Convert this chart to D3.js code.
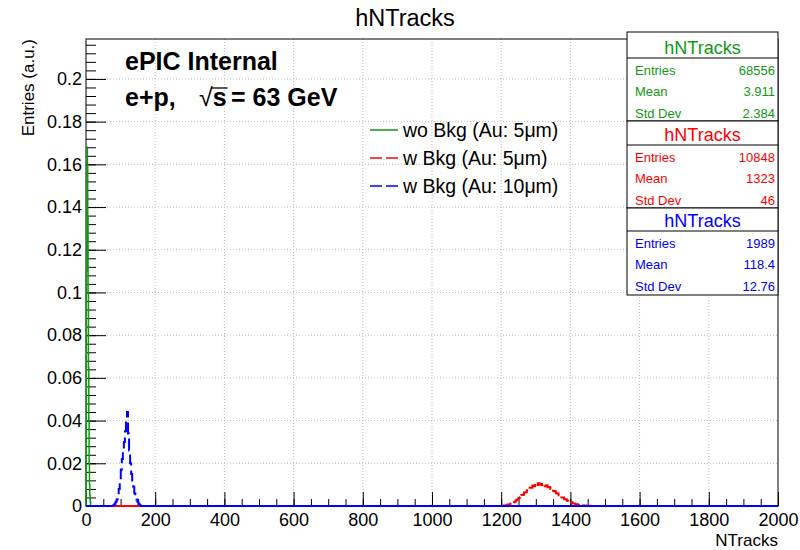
<!DOCTYPE html>
<html>
<head>
<meta charset="utf-8">
<script src="https://cdn.jsdelivr.net/npm/d3@7"></script>
<style>
  html, body { margin: 0; padding: 0; background: #fff; }
  svg { display: block; font-family: "Liberation Sans", Arial, Helvetica, sans-serif; }
</style>
</head>
<body>
<svg id="chart" width="800" height="550"></svg>
<script>
// ---------------- data ----------------
const chartTitle = "hNTracks";
const xLabel = "NTracks";
const yLabel = "Entries (a.u.)";
const xDomain = [0, 2000];
const yMax = 0.2187;
const xTicks = [0, 200, 400, 600, 800, 1000, 1200, 1400, 1600, 1800, 2000];
const yTicks = [0, 0.02, 0.04, 0.06, 0.08, 0.1, 0.12, 0.14, 0.16, 0.18, 0.2];

// green: wo Bkg (Au: 5um), bins of width 1 starting at 0
const greenStart = 0, greenWidth = 1;
const greenValues = [0.035, 0.110, 0.150, 0.168, 0.160, 0.135, 0.100, 0.065, 0.040, 0.020, 0.010, 0.005, 0.002];

// red: w Bkg (Au: 5um), bins of width 4 starting at 1202
const redStart = 1202, redWidth = 4;
const redValues = [0.0001, 0.0002, 0.0002, 0.0004, 0.0007, 0.0007, 0.0011, 0.0013, 0.0018, 0.0020,
                   0.0027, 0.0030, 0.0038, 0.0041, 0.0051, 0.0053, 0.0063, 0.0064, 0.0074, 0.0077,
                   0.0086, 0.0085, 0.0096, 0.0093, 0.0104, 0.0098, 0.0106, 0.0099, 0.0103, 0.0097,
                   0.0101, 0.0093, 0.0097, 0.0088, 0.0089, 0.0080, 0.0079, 0.0070, 0.0069, 0.0060,
                   0.0058, 0.0050, 0.0048, 0.0040, 0.0040, 0.0032, 0.0031, 0.0025, 0.0023, 0.0018,
                   0.0017, 0.0012, 0.0012, 0.0008, 0.0008, 0.0005, 0.0005, 0.0003, 0.0003, 0.0002,
                   0.0002, 0.0001, 0.0001, 0.0001, 0.0000];

// blue: w Bkg (Au: 10um), bins of width 3 starting at 79.5
const blueStart = 79.5, blueWidth = 3;
const blueValues = [0.0005, 0.001, 0.002, 0.003, 0.005, 0.008, 0.012, 0.017, 0.022, 0.026,
                    0.030, 0.035, 0.041, 0.044, 0.034, 0.026, 0.020, 0.015, 0.012, 0.009,
                    0.006, 0.004, 0.003, 0.002, 0.001, 0.0005];

const legendLabels = ["wo Bkg (Au: 5\u03bcm)", "w Bkg (Au: 5\u03bcm)", "w Bkg (Au: 10\u03bcm)"];
const seriesColors = ["#119911", "#ff0000", "#0000ff"];
const statsTitle = ["hNTracks", "hNTracks", "hNTracks"];
const statsEntries = ["68556", "10848", "1989"];
const statsMean = ["3.911", "1323", "118.4"];
const statsStd = ["2.384", "46", "12.76"];

// ---------------- layout ----------------
const svg = d3.select("#chart");
const L = 86, R = 778, T = 39, B = 506;
const x = d3.scaleLinear().domain(xDomain).range([L, R]);
const y = d3.scaleLinear().domain([0, yMax]).range([B, T]);

// title
svg.append("text").attr("x", 405).attr("y", 26).attr("text-anchor", "middle")
  .attr("font-size", 23.5).text(chartTitle);

// grid
const grid = svg.append("g").attr("stroke", "#bdbdbd").attr("stroke-width", 1).attr("stroke-dasharray", "1,2");
xTicks.filter(d => d > xDomain[0] && d < xDomain[1]).forEach(d => {
  grid.append("line").attr("x1", x(d)).attr("x2", x(d)).attr("y1", T).attr("y2", B);
});
yTicks.filter(d => d > 0).forEach(d => {
  grid.append("line").attr("x1", L).attr("x2", R).attr("y1", y(d)).attr("y2", y(d));
});

// frame
svg.append("rect").attr("x", L).attr("y", T).attr("width", R - L).attr("height", B - T)
  .attr("fill", "none").attr("stroke", "#000").attr("stroke-width", 1);

// x axis
const xMinor = d3.range(0, 2001, 50);
const gxMinor = svg.append("g").attr("transform", `translate(0,${B})`)
  .call(d3.axisBottom(x).tickValues(xMinor).tickSize(-7).tickFormat(""));
const gx = svg.append("g").attr("transform", `translate(0,${B})`)
  .call(d3.axisBottom(x).tickValues(xTicks).tickSize(-14).tickPadding(7).tickFormat(d3.format("d")));
[gx, gxMinor].forEach(g => { g.select(".domain").remove(); g.selectAll("line").attr("stroke", "#000"); });
gx.selectAll("text").attr("font-size", 18).attr("fill", "#000").attr("font-family", null);

// y axis
const yMinor = d3.range(0, 0.2181, 0.004);
const gyMinor = svg.append("g").attr("transform", `translate(${L},0)`)
  .call(d3.axisLeft(y).tickValues(yMinor).tickSize(-10).tickFormat(""));
const gy = svg.append("g").attr("transform", `translate(${L},0)`)
  .call(d3.axisLeft(y).tickValues(yTicks).tickSize(-20).tickPadding(4)
    .tickFormat(d => d === 0 ? "0" : d3.format(".2~f")(d)));
[gy, gyMinor].forEach(g => { g.select(".domain").remove(); g.selectAll("line").attr("stroke", "#000"); });
gy.selectAll("text").attr("font-size", 18).attr("fill", "#000").attr("font-family", null);

// axis titles
svg.append("text").attr("x", R).attr("y", 546).attr("text-anchor", "end")
  .attr("font-size", 17).text(xLabel);
svg.append("text").attr("transform", `translate(34,${T}) rotate(-90)`).attr("text-anchor", "end")
  .attr("font-size", 17).text(yLabel);

// histograms
function histPoints(start, width, values) {
  const pts = [[start, 0]];
  values.forEach((v, i) => {
    pts.push([start + i * width, v]);
    pts.push([start + (i + 1) * width, v]);
  });
  pts.push([start + values.length * width, 0]);
  return pts;
}
const line = d3.line().x(d => x(d[0])).y(d => y(d[1]));
function drawHist(start, width, values, color, dash, sw) {
  const end = start + values.length * width;
  const g = svg.append("g").attr("fill", "none").attr("stroke", color).attr("stroke-width", sw);
  // empty bins (flat at zero)
  g.append("path").attr("d", line([[xDomain[0], 0], [start, 0]]));
  g.append("path").attr("d", line([[end, 0], [xDomain[1], 0]]));
  g.append("path").attr("d", line(histPoints(start, width, values)))
    .attr("stroke-dasharray", dash);
}
drawHist(greenStart, greenWidth, greenValues, seriesColors[0], null, 1.5);
drawHist(redStart, redWidth, redValues, seriesColors[1], "12,3", 2);
drawHist(blueStart, blueWidth, blueValues, seriesColors[2], "12,5", 2);

// labels
svg.append("text").attr("x", 125).attr("y", 70).attr("font-size", 25).attr("font-weight", "bold")
  .text("ePIC Internal");
const t2 = svg.append("text").attr("y", 106).attr("font-size", 25).attr("font-weight", "bold");
t2.append("tspan").attr("x", 125).text("e+p,");
t2.append("tspan").attr("x", 199).attr("font-weight", "normal").text("\u221a");
t2.append("tspan").text("s");
t2.append("tspan").attr("x", 231).text("= 63 GeV");
// radical bar over s
const ext = t2.node().getExtentOfChar(5);
svg.append("line").attr("x1", ext.x - 1).attr("x2", ext.x + ext.width + 1)
  .attr("y1", 88).attr("y2", 88).attr("stroke", "#000").attr("stroke-width", 1.3);

// legend
const legY = [130, 158, 186];
legendLabels.forEach((lab, i) => {
  svg.append("line").attr("x1", 370).attr("x2", 398).attr("y1", legY[i]).attr("y2", legY[i])
    .attr("stroke", seriesColors[i]).attr("stroke-width", 1.5)
    .attr("stroke-dasharray", i === 0 ? null : "12,4");
  svg.append("text").attr("x", 403).attr("y", legY[i]).attr("dy", "0.35em")
    .attr("font-size", 19.5).text(lab);
});

// stats boxes
const boxTop = [32, 121, 208], boxBot = [121, 208, 295], boxSep = [58, 145, 231];
const bx0 = 627, bx1 = 778;
for (let i = 0; i < 3; i++) {
  const g = svg.append("g");
  g.append("rect").attr("x", bx0).attr("y", boxTop[i]).attr("width", bx1 - bx0)
    .attr("height", boxBot[i] - boxTop[i]).attr("fill", "#fff").attr("stroke", "#000");
  g.append("line").attr("x1", bx0).attr("x2", bx1).attr("y1", boxSep[i]).attr("y2", boxSep[i])
    .attr("stroke", "#000");
  g.append("text").attr("x", (bx0 + bx1) / 2).attr("y", boxSep[i] - 4).attr("text-anchor", "middle")
    .attr("font-size", 18).attr("fill", seriesColors[i]).text(statsTitle[i]);
  const rows = [["Entries", statsEntries[i]], ["Mean", statsMean[i]], ["Std Dev", statsStd[i]]];
  rows.forEach((r, j) => {
    const yy = boxSep[i] + 17 + j * 21.3;
    g.append("text").attr("x", 635).attr("y", yy).attr("font-size", 13).attr("fill", seriesColors[i]).text(r[0]);
    g.append("text").attr("x", 775).attr("y", yy).attr("text-anchor", "end").attr("font-size", 13)
      .attr("fill", seriesColors[i]).text(r[1]);
  });
}
</script>
</body>
</html>
